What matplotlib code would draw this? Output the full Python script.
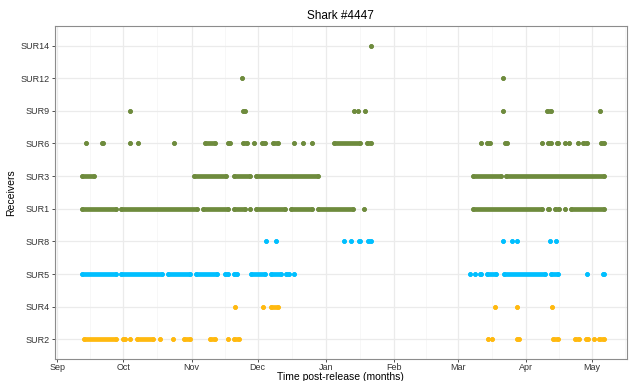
import pandas as pd
import matplotlib
matplotlib.use("Agg")
import matplotlib.pyplot as plt

plt.rcParams['font.family'] = ['Liberation Sans', 'DejaVu Sans']

# detection periods per receiver, as (first, last) day after 2019-09-01
start_date = pd.Timestamp("2019-09-01")

sur14 = [(142.7, 142.7)]
sur12 = [(83.9, 83.9), (202.8, 202.8)]
sur9 = [(32.8, 32.8), (84.2, 85.5), (134.8, 134.8), (136.9, 136.9), (139.8, 139.8),
        (202.8, 202.8), (222.5, 224.5), (246.9, 246.9)]
sur6 = [(12.8, 12.8), (20.2, 20.7), (32.8, 32.8), (36.7, 36.7), (52.8, 52.8),
        (67.2, 71.5), (77.4, 78.5), (84.3, 86.1), (89.2, 89.6), (93.0, 94.6),
        (98.0, 100.5), (107.8, 107.8), (111.9, 111.9), (115.8, 115.8),
        (126.0, 137.6), (141.0, 142.6), (192.6, 192.6), (195.5, 196.5),
        (203.4, 204.6), (220.2, 220.2), (223.3, 224.5), (227.3, 227.5),
        (230.7, 230.7), (232.8, 232.8), (236.6, 236.6), (239.2, 240.7),
        (247.2, 248.7)]
sur3 = [(11.3, 16.5), (62.2, 76.5), (80.1, 87.4), (90.4, 118.7),
        (189.2, 201.5), (204.0, 248.7)]
sur1 = [(11.1, 26.5), (29.0, 63.4), (66.1, 77.5), (80.1, 85.5), (87.5, 87.5),
        (90.4, 103.5), (106.3, 115.7), (118.3, 134.6), (139.2, 139.6),
        (189.2, 220.4), (223.3, 223.4), (226.3, 228.3), (231.0, 231.0),
        (233.4, 248.7)]
sur8 = [(94.8, 94.8), (99.3, 99.5), (130.1, 130.5), (133.3, 133.5),
        (137.2, 137.6), (141.1, 142.6), (202.8, 202.8), (206.7, 206.7),
        (208.9, 208.9), (223.9, 223.9), (226.7, 226.7)]
sur5 = [(11.1, 26.5), (29.0, 47.5), (50.2, 60.5), (63.1, 72.5), (76.0, 77.5),
        (80.2, 81.6), (88.0, 94.6), (97.2, 101.5), (104.0, 105.5), (107.8, 107.8),
        (187.8, 187.8), (189.9, 189.9), (192.2, 192.4), (195.5, 199.5),
        (203.3, 221.5), (224.3, 227.5), (240.8, 240.8), (248.3, 248.4)]
sur4 = [(80.7, 80.7), (93.3, 93.4), (97.2, 100.5), (198.9, 198.9),
        (208.9, 208.9), (224.8, 224.8)]
sur2 = [(12.2, 26.5), (29.8, 30.8), (32.8, 32.8), (36.1, 43.4), (46.7, 46.7),
        (52.6, 52.6), (57.4, 60.4), (69.2, 71.5), (77.7, 77.7), (80.1, 82.4),
        (195.6, 195.6), (197.8, 197.8), (208.8, 209.8), (225.2, 227.5),
        (235.4, 237.4), (240.4, 241.3), (243.9, 243.9), (246.3, 248.4)]

receivers = ["SUR2", "SUR4", "SUR5", "SUR8", "SUR1", "SUR3", "SUR6", "SUR9", "SUR12", "SUR14"]
periods = [sur2, sur4, sur5, sur8, sur1, sur3, sur6, sur9, sur12, sur14]
green, blue, orange = "#6E8B3D", "#00BFFF", "#FFB90F"
colours = [orange, orange, blue, blue, green, green, green, green, green, green]
months = ["2019-09-01", "2019-10-01", "2019-11-01", "2019-12-01", "2020-01-01",
          "2020-02-01", "2020-03-01", "2020-04-01", "2020-05-01"]

fig = plt.figure(figsize=(6.35, 3.81), dpi=100)
ax = fig.add_axes([0.0866, 0.0577, 0.9004, 0.8743])

dot = 3.4
for i, (recv, col) in enumerate(zip(periods, colours)):
    for s, e in recv:
        xs = [start_date + pd.Timedelta(days=s), start_date + pd.Timedelta(days=e)]
        ax.plot(xs, [i, i], color=col, lw=dot, solid_capstyle="round",
                marker="o", ms=dot, mew=0, zorder=3)

month_ts = pd.to_datetime(months)
ax.set_xticks(month_ts)
ax.set_xticklabels([m.strftime("%b") for m in month_ts])
mids = [month_ts[k] + (month_ts[k + 1] - month_ts[k]) / 2 for k in range(len(month_ts) - 1)]
mids.append(month_ts[-1] + pd.Timedelta(days=15))
ax.set_xticks(mids, minor=True)
ax.set_xlim(start_date + pd.Timedelta(days=-1.1), start_date + pd.Timedelta(days=258.9))

ax.set_yticks(range(len(receivers)))
ax.set_yticklabels(receivers)
ax.set_ylim(-0.6, len(receivers) - 0.4)

ax.grid(True, which="major", color="#EBEBEB", lw=0.9, zorder=0)
ax.grid(True, which="minor", axis="x", color="#F4F4F4", lw=0.5, zorder=0)
ax.set_axisbelow(True)
for sp in ax.spines.values():
    sp.set_color("#8C8C8C")
    sp.set_linewidth(0.8)
ax.tick_params(axis="both", which="major", labelsize=6.5, colors="#333333",
               length=2.5, width=0.6, pad=1.5)
ax.tick_params(axis="x", which="major", pad=0.5)
ax.tick_params(axis="both", which="minor", length=0)
for t in ax.get_xticklabels() + ax.get_yticklabels():
    t.set_color("#333333")

ax.set_title("Shark #4447", fontsize=8.5, pad=5)
ax.set_xlabel("Time post-release (months)", fontsize=7.5, labelpad=0)
ax.set_ylabel("Receivers", fontsize=7.5, labelpad=3)

fig.savefig("out.png", dpi=100)
